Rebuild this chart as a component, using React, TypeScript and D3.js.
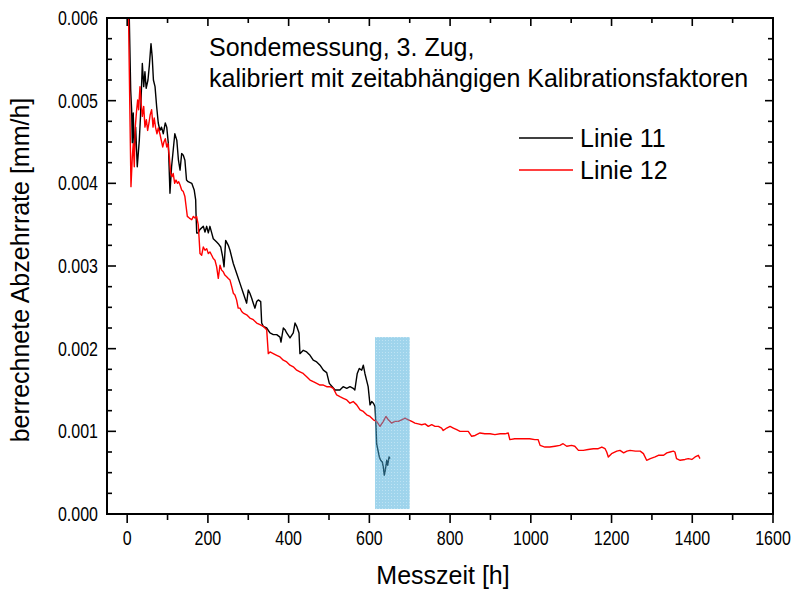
import * as d3 from "d3";

// Linie 11 (schwarz): Messzeit [h] und berechnete Abzehrrate [mm/h]
const linie11Zeit = [
  2, 8.7, 11, 12.7, 15, 17.6, 21, 25, 30, 33, 37.5, 41, 44, 47, 51.5, 55, 59, 62, 65, 69, 73, 77, 81, 85,
  89.5, 94.4, 98, 102, 106, 110, 114, 118, 123, 127, 131, 135, 139, 143, 147, 151, 160, 166, 169.7, 170.5,
  172.2, 176, 180, 188.6, 192.8, 197, 201, 205, 209.4, 213.3, 221.7, 225.7, 231.7, 236.6, 240, 244, 250.5,
  254.7, 262.9, 271.3, 279.5, 287.7, 296, 300, 304, 308.5, 312.4, 316.6, 320.9, 324.8, 330.8, 333.2, 337.2,
  345.6, 353.8, 362, 370.4, 378.6, 381, 386.8, 391, 395.2, 403.4, 411.5, 415.8, 420, 425.7, 428, 436.3,
  444.7, 453, 461, 469.5, 477.7, 486, 494.3, 500.8, 508, 515, 527, 535, 544, 552, 560, 564, 570, 575, 581,
  585, 589, 593, 597, 601.6, 605.8, 610, 614, 616.5, 618, 619.7, 624.7, 628, 632, 634.5, 637, 639.5, 643,
  645.5, 648.7, 651,
];
const linie11Rate = [
  0.0068, 0.00513, 0.00489, 0.00449, 0.00485, 0.00437, 0.00468, 0.0042, 0.00452, 0.00481, 0.00545, 0.00517,
  0.00535, 0.00515, 0.00525, 0.00543, 0.00569, 0.00553, 0.00525, 0.00517, 0.00493, 0.00473, 0.00464, 0.00468,
  0.0046, 0.00473, 0.00468, 0.00448, 0.00388, 0.0042, 0.0044, 0.0046, 0.00452, 0.00428, 0.00416, 0.00436,
  0.00434, 0.00428, 0.00404, 0.00402, 0.004, 0.00392, 0.0038, 0.00364, 0.0034, 0.0034, 0.00344, 0.00348,
  0.00341, 0.00348, 0.0034, 0.00348, 0.0034, 0.00333, 0.00329, 0.00327, 0.00323, 0.00311, 0.00299, 0.00331,
  0.00325, 0.00319, 0.00303, 0.00291, 0.00279, 0.00267, 0.00255, 0.00271, 0.00267, 0.00261, 0.00255, 0.00249,
  0.00257, 0.00259, 0.00257, 0.00231, 0.00227, 0.00225, 0.00219, 0.00217, 0.00217, 0.00214, 0.00208, 0.00225,
  0.00223, 0.00219, 0.00213, 0.00219, 0.00231, 0.00227, 0.00219, 0.00194, 0.00198, 0.00196, 0.00192, 0.00186,
  0.00184, 0.0018, 0.00174, 0.00171, 0.00158, 0.00154, 0.0015, 0.0015, 0.00154, 0.00152, 0.00154, 0.00152,
  0.0015, 0.0017, 0.00176, 0.00174, 0.0018, 0.0017, 0.00162, 0.00154, 0.00132, 0.00136, 0.00134, 0.0013,
  0.00106, 0.00085, 0.00081, 0.00069, 0.00065, 0.00063, 0.00057, 0.00047, 0.00053, 0.00065, 0.00059, 0.00069,
  0.00067,
];

// Linie 12 (rot)
const linie12Zeit = [
  1, 9.4, 12.7, 15, 17.6, 20, 23.5, 26, 28.4, 31.7, 34, 37.5, 41, 44, 47.5, 50.7, 54, 57, 60.6, 64, 67, 70.5,
  73.8, 77, 81, 84.5, 88, 91, 94.5, 98, 101, 104.4, 107.7, 111, 114, 117.7, 121, 124.4, 127.6, 131, 135, 139,
  143, 146, 149, 154, 160, 164, 168, 172, 176, 178, 180.4, 184.5, 188.6, 192.8, 197, 201, 205, 209.4, 213.3,
  217.5, 221.7, 225.7, 230, 234, 238, 242, 246.5, 250.5, 254.7, 259, 263, 267, 271, 275, 279.5, 283.7, 287.7,
  296, 304, 312.4, 320.9, 329, 337, 345.6, 349.6, 353.8, 362, 370.4, 378.6, 386.8, 395.2, 403.4, 411.5, 420,
  428, 436, 444.7, 453, 461, 469.5, 477.7, 486, 494.3, 502.5, 510.7, 519, 527, 535.5, 544, 552, 560, 568.6,
  577, 585, 593.4, 601.6, 610, 618, 626.4, 634.5, 641, 647, 655, 663.5, 671.7, 680, 688.3, 696.5, 705, 713,
  721, 729.7, 738, 746, 754.5, 762.6, 771, 779, 783, 791.6, 800, 808, 816.4, 824.6, 845, 853.5, 862, 874, 886,
  899, 911, 924, 936, 944, 948, 960, 972, 985, 997, 1010, 1018, 1023, 1035, 1047, 1060, 1072, 1080, 1089,
  1101, 1109, 1118, 1130, 1142, 1155, 1167, 1176, 1184, 1188, 1192, 1200, 1213, 1221, 1230, 1238, 1246, 1259,
  1271, 1279, 1287, 1296, 1308, 1316, 1329, 1337, 1345, 1353, 1357, 1361, 1370, 1382, 1390, 1399, 1407, 1415,
  1419,
];
const linie12Rate = [
  0.0068, 0.00396, 0.00432, 0.00448, 0.0042, 0.00468, 0.00489, 0.00501, 0.00489, 0.00517, 0.00501, 0.00481,
  0.00493, 0.00468, 0.00477, 0.00464, 0.00473, 0.00483, 0.00489, 0.00468, 0.00479, 0.00467, 0.0046, 0.00467,
  0.0046, 0.00452, 0.00444, 0.0045, 0.00454, 0.00444, 0.00448, 0.00432, 0.00412, 0.00408, 0.00412, 0.004,
  0.00404, 0.004, 0.00402, 0.00398, 0.00392, 0.0039, 0.00384, 0.00372, 0.0036, 0.00358, 0.00356, 0.0036,
  0.00358, 0.0036, 0.0035, 0.00335, 0.00315, 0.00313, 0.00323, 0.00319, 0.00321, 0.00315, 0.00317, 0.00313,
  0.00309, 0.00307, 0.00299, 0.00285, 0.00301, 0.00295, 0.00293, 0.00289, 0.00287, 0.00285, 0.00283, 0.00275,
  0.00267, 0.00265, 0.00259, 0.00249, 0.00249, 0.00245, 0.00243, 0.00241, 0.00237, 0.00235, 0.00231, 0.00229,
  0.00227, 0.00223, 0.00194, 0.00196, 0.00194, 0.00192, 0.0019, 0.00186, 0.00184, 0.0018, 0.00178, 0.00174,
  0.00172, 0.0017, 0.00166, 0.00162, 0.0016, 0.00158, 0.00156, 0.00156, 0.00154, 0.00154, 0.00152, 0.00144,
  0.00142, 0.0014, 0.00138, 0.00134, 0.00136, 0.00132, 0.00126, 0.00124, 0.0012, 0.00118, 0.00114, 0.00112,
  0.00106, 0.00112, 0.00118, 0.00114, 0.0011, 0.00112, 0.00112, 0.00114, 0.00116, 0.00114, 0.00112, 0.0011,
  0.00109, 0.00108, 0.00109, 0.00106, 0.00108, 0.00106, 0.00106, 0.00104, 0.00101, 0.00104, 0.00106, 0.00104,
  0.00102, 0.001, 0.001, 0.00094, 0.00095, 0.00098, 0.00097, 0.00097, 0.00096, 0.00097, 0.00097, 0.00098,
  0.0009, 0.00091, 0.00091, 0.00091, 0.00091, 0.0009, 0.0009, 0.00083, 0.00081, 0.00081, 0.00082, 0.00083,
  0.00085, 0.00082, 0.00083, 0.00082, 0.00077, 0.00077, 0.00078, 0.00079, 0.00079, 0.00081, 0.00079, 0.00075,
  0.00069, 0.00073, 0.00076, 0.00077, 0.00074, 0.00076, 0.00077, 0.00076, 0.00076, 0.00073, 0.00065, 0.00067,
  0.00069, 0.00071, 0.00071, 0.00074, 0.00075, 0.00076, 0.00075, 0.00067, 0.00065, 0.00066, 0.00067, 0.00066,
  0.00069, 0.00071, 0.00067,
];

// markierter Zeitbereich (blaues Rechteck)
const markBereich = { von: 614, bis: 700, unten: 0.00006, oben: 0.00214 };

const xMajor = [0, 200, 400, 600, 800, 1000, 1200, 1400, 1600];
const xMinor = [100, 300, 500, 700, 900, 1100, 1300, 1500];
const yMajor = [0, 0.001, 0.002, 0.003, 0.004, 0.005, 0.006];
const yMinor = [
  0.00025, 0.0005, 0.00075, 0.00125, 0.0015, 0.00175, 0.00225, 0.0025, 0.00275, 0.00325, 0.0035, 0.00375,
  0.00425, 0.0045, 0.00475, 0.00525, 0.0055, 0.00575,
];

const titel = ["Sondemessung, 3. Zug,", "kalibriert mit zeitabhängigen Kalibrationsfaktoren"];
const serien = [
  { name: "Linie 11", color: "#000000", zeit: linie11Zeit, rate: linie11Rate },
  { name: "Linie 12", color: "#ff0000", zeit: linie12Zeit, rate: linie12Rate },
];

const WIDTH = 797;
const HEIGHT = 590;
const plot = { left: 107, right: 773, top: 18, bottom: 514 };
const FONT = "Arial, 'Liberation Sans', sans-serif";
const TICK_SQUEEZE = 0.82; // Tick-Ziffern sind im Original schmal gesetzt

export default function App() {
  const x = d3.scaleLinear().domain([-50, 1600]).range([plot.left, plot.right]);
  const y = d3.scaleLinear().domain([0, 0.006]).range([plot.bottom, plot.top]);

  const line = d3
    .line<[number, number]>()
    .x((d) => x(d[0]))
    .y((d) => y(d[1]));

  const major = 8;
  const minor = 5;

  return (
    <svg
      width={WIDTH}
      height={HEIGHT}
      style={{ position: "absolute", left: 0, top: 0, background: "#fff" }}
      fontFamily={FONT}
    >
      <defs>
        <clipPath id="plotClip">
          <rect x={plot.left} y={plot.top} width={plot.right - plot.left} height={plot.bottom - plot.top} />
        </clipPath>
        <pattern id="punkte" width={3} height={3} patternUnits="userSpaceOnUse">
          <rect width={3} height={3} fill="#3fa9d8" />
          <rect x={1} y={1} width={1} height={1} fill="#7cc6e8" />
        </pattern>
      </defs>

      <g clipPath="url(#plotClip)">
        {serien.map((s) => (
          <path
            key={s.name}
            d={line(s.zeit.map((t, i) => [t, s.rate[i]] as [number, number])) ?? ""}
            fill="none"
            stroke={s.color}
            strokeWidth={1.4}
            strokeLinejoin="round"
          />
        ))}
        <rect
          x={x(markBereich.von)}
          y={y(markBereich.oben)}
          width={x(markBereich.bis) - x(markBereich.von)}
          height={y(markBereich.unten) - y(markBereich.oben)}
          fill="url(#punkte)"
          opacity={0.5}
        />
      </g>

      {/* Rahmen */}
      <rect
        x={plot.left}
        y={plot.top}
        width={plot.right - plot.left}
        height={plot.bottom - plot.top}
        fill="none"
        stroke="#000"
        strokeWidth={2}
      />

      {/* x-Ticks unten (außen) und oben (innen), y-Ticks innen */}
      <g stroke="#000" strokeWidth={1.6}>
        {xMajor.map((v) => (
          <g key={`xM${v}`}>
            <line x1={x(v)} x2={x(v)} y1={plot.bottom} y2={plot.bottom + major + 1} />
            <line x1={x(v)} x2={x(v)} y1={plot.top} y2={plot.top + major} />
          </g>
        ))}
        {xMinor.map((v) => (
          <g key={`xm${v}`}>
            <line x1={x(v)} x2={x(v)} y1={plot.bottom} y2={plot.bottom + minor + 1} />
            <line x1={x(v)} x2={x(v)} y1={plot.top} y2={plot.top + minor} />
          </g>
        ))}
        {yMajor.map((v) => (
          <g key={`yM${v}`}>
            <line x1={plot.left} x2={plot.left + major + 1} y1={y(v)} y2={y(v)} />
            <line x1={plot.right} x2={plot.right - major} y1={y(v)} y2={y(v)} />
          </g>
        ))}
        {yMinor.map((v) => (
          <g key={`ym${v}`}>
            <line x1={plot.left} x2={plot.left + minor} y1={y(v)} y2={y(v)} />
            <line x1={plot.right} x2={plot.right - minor} y1={y(v)} y2={y(v)} />
          </g>
        ))}
      </g>

      {/* Tick-Beschriftungen */}
      <g fontSize={19.5} fill="#000">
        {xMajor.map((v) => (
          <text
            key={`xl${v}`}
            transform={`translate(${x(v)}, 545) scale(${TICK_SQUEEZE}, 1)`}
            textAnchor="middle"
          >
            {v}
          </text>
        ))}
        {yMajor.map((v) => (
          <text
            key={`yl${v}`}
            transform={`translate(98, ${y(v)}) scale(${TICK_SQUEEZE}, 1)`}
            dy="0.35em"
            textAnchor="end"
          >
            {d3.format(".3f")(v)}
          </text>
        ))}
      </g>

      {/* Achsentitel */}
      <text x={443} y={584} textAnchor="middle" fontSize={25}>
        Messzeit [h]
      </text>
      <text
        transform={`translate(29, ${(plot.top + plot.bottom) / 2 + 4}) rotate(-90)`}
        textAnchor="middle"
        fontSize={25}
      >
        berrechnete Abzehrrate [mm/h]
      </text>

      {/* Beschriftung im Diagramm */}
      {titel.map((t, i) => (
        <text key={t} x={209} y={56 + i * 31} fontSize={25}>
          {t}
        </text>
      ))}

      {/* Legende */}
      {serien.map((s, i) => (
        <g key={`leg${s.name}`} transform={`translate(519, ${138 + i * 32})`}>
          <line x1={0} x2={54} y1={0} y2={0} stroke={s.color} strokeWidth={1.5} />
          <text x={61} y={0} dy="0.35em" fontSize={25}>
            {s.name}
          </text>
        </g>
      ))}
    </svg>
  );
}
